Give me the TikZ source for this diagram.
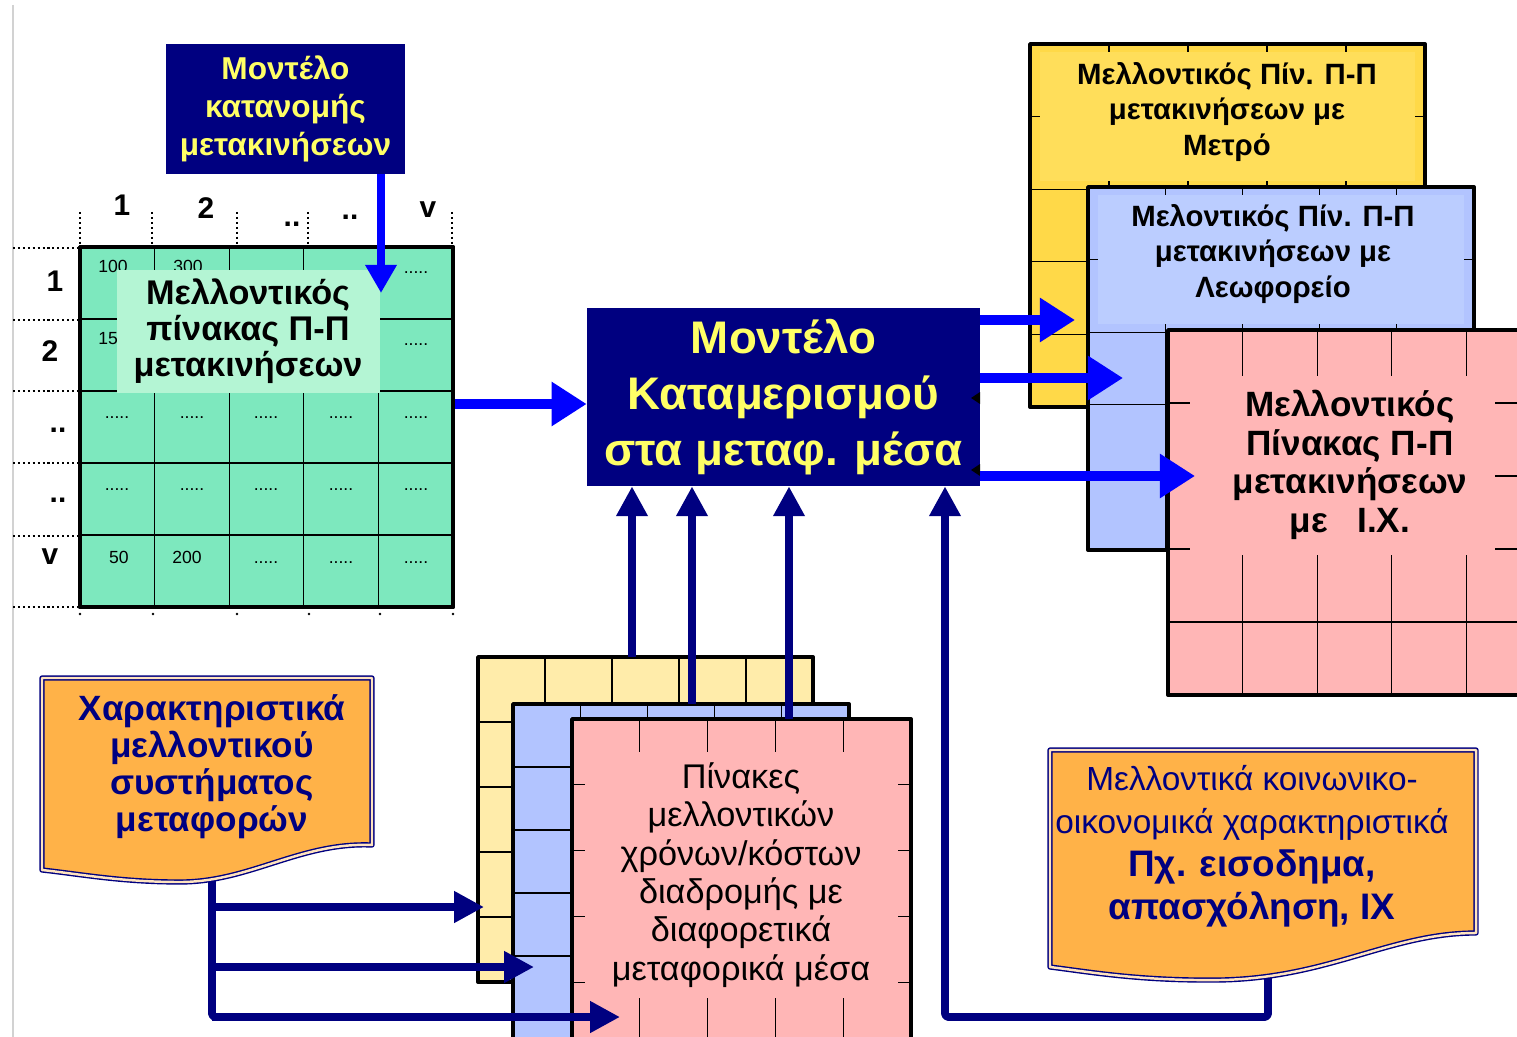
\documentclass[tikz,border=0pt]{standalone}
\usepackage{fontspec}
\setmainfont{Liberation Sans}
\usetikzlibrary{arrows.meta,calc}

\definecolor{navy}{RGB}{0,0,128}
\definecolor{pureblue}{RGB}{0,0,255}
\definecolor{lemon}{RGB}{255,255,102}
\definecolor{matgreen}{RGB}{125,232,190}
\definecolor{matpanel}{RGB}{180,245,212}
\definecolor{metroyel}{RGB}{255,217,72}
\definecolor{metropanel}{RGB}{255,222,90}
\definecolor{busblue}{RGB}{178,196,255}
\definecolor{buspanel}{RGB}{187,205,255}
\definecolor{carpink}{RGB}{255,182,182}
\definecolor{paleyel}{RGB}{255,236,170}
\definecolor{docorange}{RGB}{255,178,72}

% fill, x0, y0, x1, y1, cols, rows
\newcommand{\gridbox}[7]{%
  \fill[#1] (#2,#3) rectangle (#4,#5);
  \pgfmathtruncatemacro\gbcols{#6-1}
  \pgfmathtruncatemacro\gbrows{#7-1}
  \foreach \k in {1,...,\gbcols}
    \draw[gridline] ({#2+\k*(#4-#2)/#6},#3) -- ({#2+\k*(#4-#2)/#6},#5);
  \foreach \k in {1,...,\gbrows}
    \draw[gridline] (#2,{#3+\k*(#5-#3)/#7}) -- (#4,{#3+\k*(#5-#3)/#7});
  \draw[tabborder] (#2,#3) rectangle (#4,#5);
}

\begin{document}
\begin{tikzpicture}[x=0.02cm, y=-0.02cm, line join=round,
  gridline/.style={line width=0.7pt},
  tabborder/.style={line width=2.2pt},
  dotline/.style={line width=1.2pt, dash pattern=on 1.2pt off 1.6pt},
  bluearrow/.style={draw=pureblue, line width=5.7pt, -{Triangle[length=20pt,width=24pt]}},
  thinblue/.style={draw=pureblue, line width=4.5pt, -{Triangle[length=16pt,width=17pt]}},
  navyarrow/.style={draw=navy, line width=4.5pt, -{Triangle[length=17pt,width=17pt]}},
  navyline/.style={draw=navy, line width=4.5pt, rounded corners=2pt},
  darkbox/.style={fill=navy, text=lemon, align=center, inner sep=0pt},
  docshape/.style={fill=docorange, draw=navy, line width=0.8pt, double=docorange!35!white, double distance=1.4pt},
  headlbl/.style={font=\fontsize{17}{17}\selectfont\bfseries},
  celltxt/.style={font=\fontsize{10}{10}\selectfont, inner sep=0pt},
  tabtxt/.style={align=center, inner sep=0pt}]
\useasboundingbox (0,0) rectangle (1517,1037);
\draw[gray!35, line width=1pt] (13,5) -- (13,1037);

% O-D matrix
\gridbox{matgreen}{80}{247}{453}{607}{5}{5}
\node[celltxt] (c100) at (113,266) {100};
\node[celltxt] (c300) at (188,266) {300};
\node[celltxt] (c150) at (113,338) {150};
\node[celltxt] (c50) at (119,557) {50};
\node[celltxt] (c200) at (187,557) {200};
\foreach \cx in {117,192,266,341,416}
  \foreach \ry in {418,490}
    \node[celltxt] (d-\cx-\ry) at (\cx,\ry) {.....};
\foreach \cx/\ry in {416/273,416/345,266/563,341/563,416/563}
  \node[celltxt] (e-\cx-\ry) at (\cx,\ry) {.....};
\fill[matpanel] (117,270) rectangle (380,393);
\node[tabtxt, font=\fontsize{19.5}{20.5}\selectfont\bfseries] (odTxt) at (248,331)
  {Μελλοντικός\\πίνακας Π-Π\\μετακινήσεων};
\draw[tabborder] (80,247) rectangle (453,607);
\foreach \px in {80,152,237,308,452} \draw[dotline] (\px,212) -- (\px,244);
\foreach \py in {248,320,391,463,536,607} \draw[dotline] (13,\py) -- (78,\py);
\foreach \px in {80,153,237,309,380,453} \fill (\px,614) circle[radius=0.8pt];
\foreach \lbl/\px/\py [count=\i] in {1/122/205,2/206/208,../292/224,../350/217,v/428/210}
  \node[headlbl] (col\i) at (\px,\py) {\lbl};
\foreach \lbl/\px/\py [count=\i] in {1/55/281,2/50/351,../58/430,../58/500,v/50/557}
  \node[headlbl] (row\i) at (\px,\py) {\lbl};

% distribution model
\node[darkbox, minimum width=4.78cm, minimum height=2.6cm,
  font=\fontsize{18}{21.5}\selectfont\bfseries] (distr) at (285.5,109)
  {Μοντέλο\\κατανομής\\μετακινήσεων};
\coordinate (odIn) at (381,293);
\draw[thinblue] (odIn |- distr.south) -- (odIn);

% future O-D tables per mode
\gridbox{metroyel}{1030}{44}{1425}{407}{5}{5}
\fill[metropanel] (1040,52) rectangle (1415,181);
\node[tabtxt, font=\fontsize{16.7}{20.4}\selectfont\bfseries] (metroTxt) at (1227,112)
  {Μελλοντικός Πίν. Π-Π\\μετακινήσεων με\\Μετρό};
\gridbox{busblue}{1088}{187}{1474}{550}{5}{5}
\fill[buspanel] (1098,195) rectangle (1464,324);
\node[tabtxt, font=\fontsize{16.7}{20.4}\selectfont\bfseries] (busTxt) at (1273,254)
  {Μελοντικός Πίν. Π-Π\\μετακινήσεων με\\Λεωφορείο};
\gridbox{carpink}{1168}{330}{1541}{695}{5}{5}
\fill[carpink] (1190,376) rectangle (1495,555);
\node[tabtxt, font=\fontsize{20}{22}\selectfont\bfseries] (carTxt) at (1350,465)
  {Μελλοντικός\\Πίνακας Π-Π\\μετακινήσεων\\με \ \ Ι.Χ.};

% travel time / cost tables
\gridbox{paleyel}{478}{657}{813}{982}{5}{5}
\gridbox{busblue}{513}{704}{849}{1082}{5}{6}
\gridbox{carpink}{572}{719}{911}{1048}{5}{5}
\fill[carpink] (585,752) rectangle (898,998);
\node[tabtxt, font=\fontsize{19.5}{21.8}\selectfont] (timesTxt) at (741,875)
  {Πίνακες\\μελλοντικών\\χρόνων/κόστων\\διαδρομής με\\διαφορετικά\\μεταφορικά μέσα};

% modal split model
\node[darkbox, minimum width=7.86cm, minimum height=3.56cm,
  font=\fontsize{26}{32}\selectfont\bfseries] (alloc) at (783.5,397)
  {Μοντέλο\\Καταμερισμού\\στα μεταφ. μέσα};
\fill (971,398) -- (980,392) -- (980,404) -- cycle;
\fill (971,470) -- (980,464) -- (980,476) -- cycle;

\coordinate (matE) at (455,404);
\draw[bluearrow] (matE) -- (matE -| alloc.west);
\coordinate (metroIn) at (1075,320);
\coordinate (busIn) at (1123,378);
\coordinate (carIn) at (1195,476);
\foreach \c in {metroIn,busIn,carIn} \draw[bluearrow] (alloc.east |- \c) -- (\c);

\coordinate (ttYel) at (632,657);
\coordinate (ttBus) at (692,704);
\coordinate (ttCar) at (789,719);
\foreach \c in {ttYel,ttBus,ttCar} \draw[navyarrow] (\c) -- (\c |- alloc.south);

% transport system characteristics
\coordinate (sysFoot) at (212,870);
\coordinate (inYel) at (484,907);
\coordinate (inBus) at (534,967);
\coordinate (inCar) at (620,1017);
\draw[navyline] (sysFoot) -- (sysFoot |- inCar) -- ($(sysFoot |- inCar)+(20,0)$);
\foreach \c in {inYel,inBus,inCar} \draw[navyarrow] (sysFoot |- \c) -- (\c);
\path[docshape] (42,678) -- (372,678) -- (372,845)
  .. controls (300,842) and (250,882) .. (180,882)
  .. controls (120,882) and (80,874) .. (42,870) -- cycle;
\node[tabtxt, text=navy, font=\fontsize{20}{21}\selectfont\bfseries] (sysChar) at (212,767)
  {Χαρακτηριστικά\\μελλοντικού\\συστήματος\\μεταφορών};

% socio-economic data
\coordinate (socioFoot) at (1268,960);
\coordinate (socioUp) at (945,1017);
\draw[navyarrow, rounded corners=2pt] (socioFoot) -- (socioFoot |- socioUp) -- (socioUp) -- (socioUp |- alloc.south);
\path[docshape] (1050,750) -- (1476,750) -- (1476,933)
  .. controls (1390,933) and (1330,978) .. (1220,980)
  .. controls (1140,981) and (1090,972) .. (1050,967) -- cycle;
\node[tabtxt, text=navy, font=\fontsize{19}{24.5}\selectfont] (socio) at (1252,846)
  {Μελλοντικά κοινωνικο-\\οικονομικά χαρακτηριστικά\\
   \fontsize{21}{24.5}\selectfont\bfseries Πχ. εισοδημα,\\
   \fontsize{21}{24.5}\selectfont\bfseries απασχόληση, ΙΧ};
\end{tikzpicture}
\end{document}
